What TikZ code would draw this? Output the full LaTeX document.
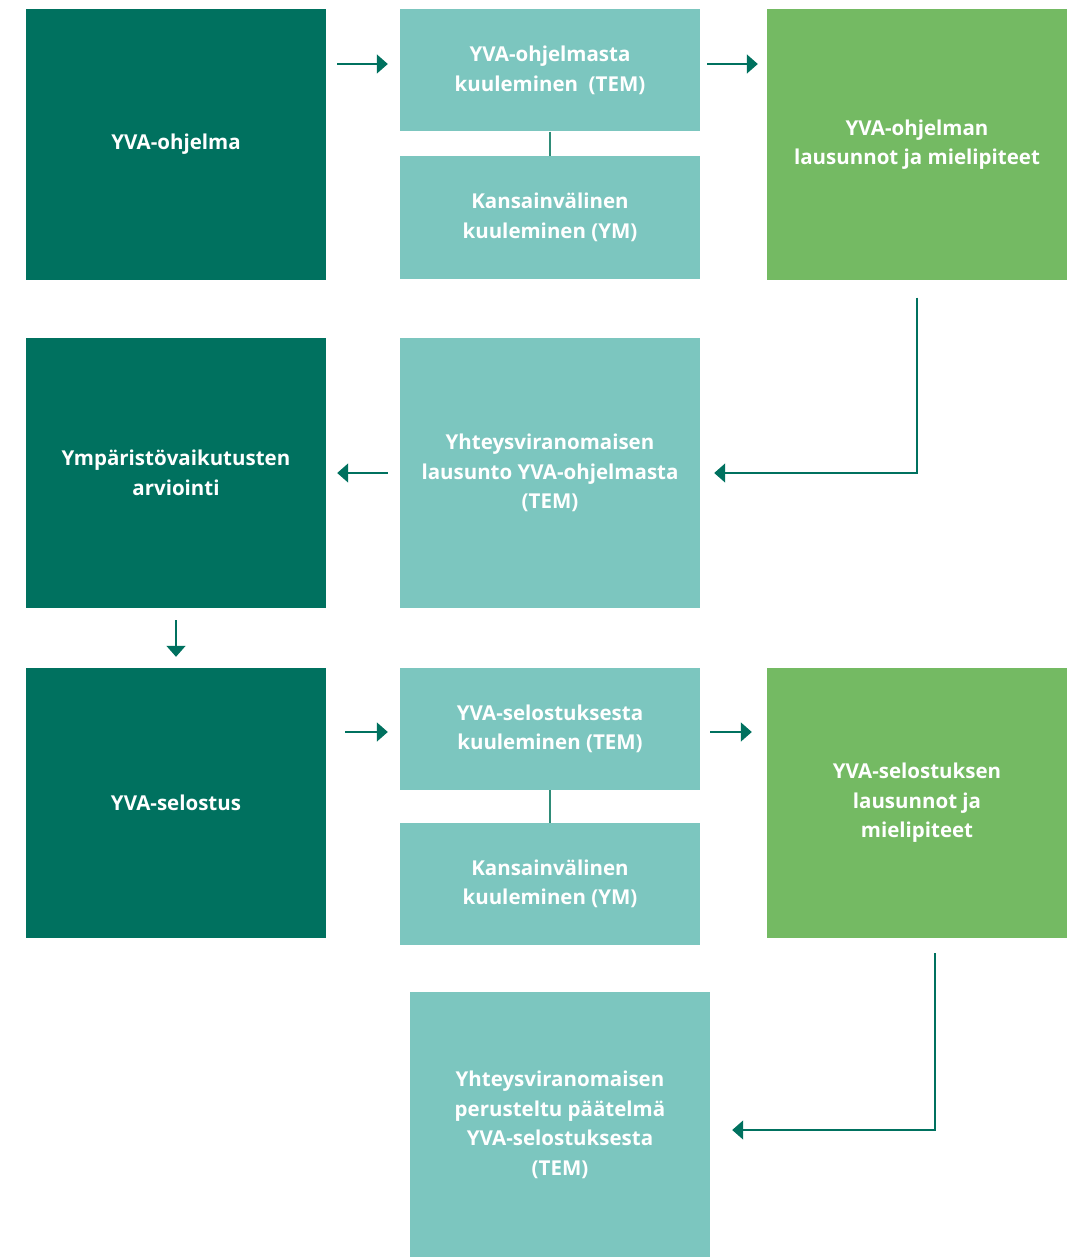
\documentclass[tikz,border=0pt]{standalone}
\usepackage{fontspec}
\setmainfont{Open Sans}
\usepackage{xcolor}
\usetikzlibrary{arrows.meta}

\definecolor{darkgr}{HTML}{00715F}
\definecolor{tealgr}{HTML}{7CC6BF}
\definecolor{lightgr}{HTML}{74BA63}
\definecolor{linegr}{HTML}{2F8C78}

\tikzset{
  box/.style={minimum width=300, minimum height=270, inner sep=0pt, align=center,
    text=white, font=\fontsize{20.5}{29.5}\selectfont\bfseries},
  halfbox/.style={box, minimum height=122},
  arr/.style={draw=linegr, line width=1.5, -{Triangle[width=19,length=11]}, darkgr}
}

\begin{document}
\begin{tikzpicture}[x=1pt,y=1pt,yscale=-1,xscale=1]
\useasboundingbox (0,0) rectangle (1074,1257);

% Row 1
\node [box, fill=darkgr] (prog) at (176,144.5) {YVA-ohjelma};
\node [halfbox, fill=tealgr] (progkuul) at (550,70.5) {YVA-ohjelmasta\\kuuleminen~ (TEM)};
\node [halfbox, fill=tealgr] (progkans) at (550,217.5) {Kansainvälinen\\kuuleminen (YM)};
\node [box, fill=lightgr] (proglaus) at (917,144.5) {YVA-ohjelman\\lausunnot ja mielipiteet};
% Row 2
\node [box, fill=darkgr] (arvio) at (176,473) {Ympäristövaikutusten\\arviointi};
\node [box, fill=tealgr] (yvlaus) at (550,473) {Yhteysviranomaisen\\lausunto YVA-ohjelmasta\\(TEM)};
% Row 3
\node [box, fill=darkgr] (selos) at (176,803) {YVA-selostus};
\node [halfbox, fill=tealgr] (seloskuul) at (550,729) {YVA-selostuksesta\\kuuleminen (TEM)};
\node [halfbox, fill=tealgr] (seloskans) at (550,884) {Kansainvälinen\\kuuleminen (YM)};
\node [box, fill=lightgr] (seloslaus) at (917,803) {YVA-selostuksen\\lausunnot ja\\mielipiteet};
% Row 4
\node [box, fill=tealgr, minimum height=266] (paatelma) at (560,1125) {Yhteysviranomaisen\\perusteltu päätelmä\\YVA-selostuksesta\\(TEM)};

% Connections
\draw [arr, shorten <=11, shorten >=12] ([yshift=-6.5]prog.east |- progkuul) -- ([yshift=-6.5]progkuul.west);
\draw [arr, shorten <=7, shorten >=9] ([yshift=-6.5]progkuul.east) -- ([yshift=-6.5]proglaus.west |- progkuul);
\draw [draw=linegr, line width=1.5] (progkuul.south) -- (progkans.north);
\draw [arr] ([yshift=18]proglaus.south) |- ([xshift=14]yvlaus.east);
\draw [arr, shorten <=12, shorten >=11] (yvlaus.west) -- (arvio.east);
\draw [arr, shorten <=12, shorten >=11] (arvio.south) -- (selos.north);
\draw [arr, shorten <=19, shorten >=12] ([yshift=3]selos.east |- seloskuul) -- ([yshift=3]seloskuul.west);
\draw [arr, shorten <=10, shorten >=15] ([yshift=3]seloskuul.east) -- ([yshift=3]seloslaus.west |- seloskuul);
\draw [draw=linegr, line width=1.5] (seloskuul.south) -- (seloskans.north);
\draw [arr] ([xshift=18,yshift=15]seloslaus.south) |- ([xshift=22,yshift=5]paatelma.east);

\end{tikzpicture}
\end{document}
